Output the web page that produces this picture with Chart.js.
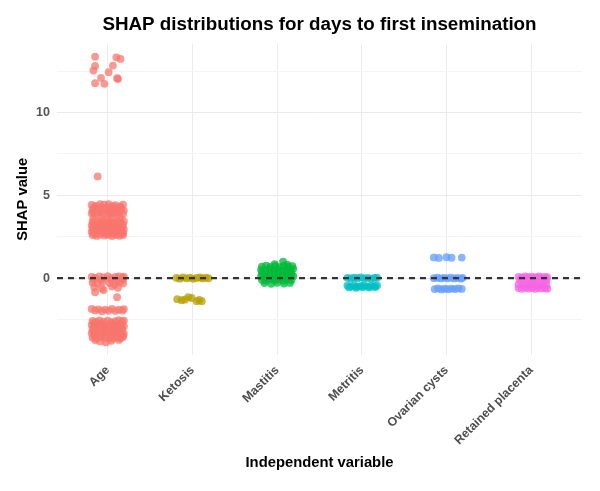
<!DOCTYPE html>
<html>
<head>
<meta charset="utf-8">
<script src="https://cdn.jsdelivr.net/npm/chart.js@4"></script>
<style>
  html, body { margin: 0; padding: 0; background: #fff; }
  #wrap { width: 600px; height: 491px; }
</style>
</head>
<body>
<div id="wrap"><canvas id="myChart" width="600" height="491"></canvas></div>
<script>
// categories on the x axis
const categories = ['Age', 'Ketosis', 'Mastitis', 'Metritis', 'Ovarian cysts', 'Retained placenta'];

// each point: [jitter offset from the category, SHAP value]
const agePoints = [
  [-0.15, 13.37], [-0.15, 12.81], [-0.17, 12.53], [-0.08, 12.09], [-0.15, 11.77], [-0.04, 11.73],
  [0.01, 12.43], [0.06, 12.83], [0.10, 13.33], [0.15, 13.23], [0.11, 12.07], [0.12, 12.02],
  [-0.12, 6.14],
  [-0.19, 4.42], [-0.14, 4.36], [-0.09, 4.47], [-0.04, 4.43], [0.01, 4.46], [0.05, 4.35], [0.09, 4.4], [0.14, 4.33], [0.18, 4.44],
  [-0.16, 4.28], [-0.11, 4.3], [-0.01, 4.26], [0.07, 4.29], [0.16, 4.25],
  [-0.18, 4.15], [-0.13, 4.1], [-0.07, 4.2], [-0.02, 4.12], [0.03, 4.18], [0.07, 4.06], [0.11, 4.2], [0.16, 4.12], [0.19, 4.08],
  [-0.17, 4.0], [-0.08, 4.02], [0.02, 3.99], [0.12, 4.01],
  [-0.19, 3.92], [-0.15, 3.86], [-0.10, 3.95], [-0.05, 3.87], [0.0, 3.92], [0.04, 3.84], [0.09, 3.94], [0.13, 3.88], [0.18, 3.85],
  [-0.17, 3.63], [-0.08, 3.68], [-0.01, 3.58], [0.06, 3.66], [0.15, 3.61],
  [-0.18, 3.42], [-0.13, 3.38], [-0.09, 3.45], [-0.05, 3.36], [-0.01, 3.44], [0.03, 3.4], [0.07, 3.35], [0.11, 3.46], [0.15, 3.39], [0.19, 3.43],
  [-0.19, 3.18], [-0.15, 3.24], [-0.11, 3.15], [-0.06, 3.22], [-0.02, 3.17], [0.02, 3.25], [0.06, 3.14], [0.1, 3.21], [0.14, 3.16], [0.18, 3.23],
  [-0.17, 3.3], [-0.08, 3.29], [0.04, 3.31], [0.13, 3.28],
  [-0.18, 2.98], [-0.14, 3.04], [-0.1, 2.95], [-0.05, 3.02], [-0.01, 2.97], [0.04, 3.05], [0.08, 2.96], [0.12, 3.03], [0.16, 2.99], [0.19, 2.94],
  [-0.16, 3.09], [-0.03, 3.1], [0.09, 3.08], [0.17, 3.11],
  [-0.19, 2.8], [-0.15, 2.76], [-0.11, 2.84], [-0.07, 2.78], [-0.02, 2.82], [0.02, 2.75], [0.07, 2.83], [0.11, 2.77], [0.15, 2.81], [0.18, 2.74],
  [-0.17, 2.89], [-0.06, 2.9], [0.05, 2.88], [0.14, 2.9],
  [-0.18, 2.6], [-0.13, 2.55], [-0.09, 2.63], [-0.04, 2.57], [0.01, 2.62], [0.05, 2.54], [0.1, 2.6], [0.14, 2.56], [0.18, 2.61],
  [-0.16, 2.68], [-0.02, 2.69], [0.08, 2.67], [0.17, 2.7],
  [-0.19, 0.08], [-0.15, 0.02], [-0.1, 0.1], [-0.05, 0.04], [0.0, 0.12], [0.04, 0.0], [0.09, 0.07], [0.13, 0.1], [0.17, 0.03], [0.19, 0.09],
  [-0.17, -0.1], [-0.08, -0.12], [0.03, -0.08], [0.11, -0.14], [0.18, -0.09],
  [-0.18, -0.26], [-0.12, -0.34], [-0.06, -0.22], [0.02, -0.3], [0.08, -0.38], [0.14, -0.24], [0.18, -0.32],
  [-0.16, -0.55], [-0.07, -0.62], [0.05, -0.5], [0.12, -0.58], [-0.15, -0.85], [-0.05, -0.72], [0.11, -1.15],
  [-0.19, -1.86], [-0.15, -1.95], [-0.11, -1.88], [-0.07, -2.0], [-0.03, -1.9], [0.01, -1.97], [0.05, -1.85], [0.09, -1.99], [0.13, -1.9], [0.17, -1.96], [0.19, -1.87],
  [-0.18, -2.58], [-0.14, -2.64], [-0.1, -2.55], [-0.05, -2.62], [0.0, -2.57], [0.04, -2.66], [0.09, -2.6], [0.13, -2.54], [0.17, -2.63], [0.19, -2.57],
  [-0.17, -2.72], [-0.07, -2.74], [0.05, -2.71], [0.15, -2.75],
  [-0.19, -2.83], [-0.15, -2.9], [-0.11, -2.8], [-0.06, -2.88], [-0.02, -2.84], [0.03, -2.92], [0.07, -2.82], [0.11, -2.89], [0.15, -2.85], [0.19, -2.9],
  [-0.16, -2.98], [-0.04, -2.99], [0.08, -2.97], [0.17, -3.0],
  [-0.18, -3.08], [-0.13, -3.14], [-0.09, -3.05], [-0.04, -3.12], [0.0, -3.07], [0.05, -3.15], [0.09, -3.1], [0.13, -3.04], [0.17, -3.13],
  [-0.17, -3.22], [-0.06, -3.24], [0.06, -3.21], [0.15, -3.25],
  [-0.19, -3.32], [-0.15, -3.38], [-0.1, -3.3], [-0.06, -3.4], [-0.01, -3.34], [0.03, -3.37], [0.08, -3.31], [0.12, -3.39], [0.16, -3.33], [0.19, -3.36],
  [-0.16, -3.48], [-0.03, -3.47], [0.09, -3.49], [0.18, -3.46],
  [-0.18, -3.58], [-0.13, -3.64], [-0.08, -3.56], [-0.03, -3.62], [0.02, -3.6], [0.06, -3.66], [0.11, -3.57], [0.15, -3.63], [0.18, -3.55],
  [-0.09, -3.82], [0.04, -3.78], [-0.02, -3.88], [-0.15, -3.74], [0.13, -3.73]
];

const ketosisPoints = [
  [-0.19, 0.02], [-0.15, -0.03], [-0.11, 0.04], [-0.07, -0.01], [-0.03, 0.03], [0.01, -0.04], [0.05, 0.01], [0.09, 0.04], [0.12, -0.02], [0.16, 0.03], [0.19, -0.01],
  [-0.18, -1.27], [-0.13, -1.33], [-0.05, -1.15], [-0.01, -1.2], [0.05, -1.39], [0.11, -1.39], [0.08, -1.32], [-0.09, -1.3]
];

const mastitisPoints = [
  [0.07, 1.0], [-0.03, 0.85], [0.12, 0.82],
  [-0.18, 0.7], [-0.13, 0.76], [-0.08, 0.68], [-0.02, 0.74], [0.03, 0.66], [0.08, 0.75], [0.13, 0.69], [0.18, 0.73],
  [-0.19, 0.5], [-0.14, 0.45], [-0.09, 0.55], [-0.04, 0.47], [0.01, 0.53], [0.06, 0.44], [0.11, 0.52], [0.16, 0.48], [0.19, 0.56],
  [-0.18, 0.3], [-0.13, 0.25], [-0.08, 0.33], [-0.03, 0.27], [0.02, 0.32], [0.07, 0.24], [0.12, 0.31], [0.17, 0.26],
  [-0.19, 0.1], [-0.14, 0.05], [-0.09, 0.13], [-0.04, 0.06], [0.01, 0.12], [0.06, 0.04], [0.11, 0.11], [0.16, 0.07], [0.19, 0.12],
  [-0.18, -0.1], [-0.13, -0.15], [-0.08, -0.07], [-0.03, -0.13], [0.02, -0.09], [0.07, -0.16], [0.12, -0.08], [0.17, -0.12],
  [-0.15, -0.3], [-0.07, -0.34], [0.0, -0.28], [0.08, -0.33], [0.15, -0.29]
];

const metritisPoints = [
  [-0.17, 0.02], [-0.13, -0.02], [-0.09, 0.03], [-0.05, 0.0], [-0.01, 0.04], [0.03, -0.01], [0.07, 0.02], [0.11, -0.03], [0.15, 0.01], [0.18, 0.03],
  [-0.17, -0.45], [-0.13, -0.5], [-0.09, -0.43], [-0.05, -0.52], [-0.01, -0.47], [0.03, -0.44], [0.07, -0.51], [0.11, -0.46], [0.15, -0.49], [0.18, -0.44],
  [-0.15, -0.56], [-0.07, -0.58], [0.01, -0.55], [0.09, -0.57], [0.16, -0.54]
];

const ovarianPoints = [
  [-0.15, 1.25], [-0.09, 1.22], [0.0, 1.26], [0.06, 1.23], [0.18, 1.24],
  [-0.15, 0.0], [-0.11, 0.03], [-0.07, -0.02], [-0.03, 0.02], [0.01, -0.01], [0.05, 0.03], [0.09, -0.02], [0.13, 0.01], [0.17, -0.03], [0.19, 0.02],
  [-0.14, -0.66], [-0.1, -0.62], [-0.06, -0.68], [-0.02, -0.64], [0.02, -0.67], [0.06, -0.63], [0.1, -0.66], [0.14, -0.62], [0.18, -0.65]
];

const placentaPoints = [
  [-0.15, 0.08], [-0.11, 0.05], [-0.07, 0.1], [-0.03, 0.06], [0.01, 0.09], [0.05, 0.04], [0.09, 0.1], [0.13, 0.06], [0.17, 0.08], [0.19, 0.05],
  [-0.13, -0.12], [-0.05, -0.08], [0.03, -0.14], [0.11, -0.1], [0.18, -0.13],
  [-0.15, -0.38], [-0.1, -0.42], [-0.06, -0.36], [-0.02, -0.41], [0.02, -0.37], [0.06, -0.43], [0.1, -0.38], [0.14, -0.42], [0.18, -0.39],
  [-0.15, -0.6], [-0.11, -0.64], [-0.07, -0.58], [-0.03, -0.63], [0.01, -0.6], [0.05, -0.65], [0.09, -0.59], [0.13, -0.62], [0.17, -0.6], [0.19, -0.64]
];

const seriesPoints = [agePoints, ketosisPoints, mastitisPoints, metritisPoints, ovarianPoints, placentaPoints];

// y ticks (labels only on multiples of 5) and the reference line
const yTicks = [-2.5, 0, 2.5, 5, 7.5, 10, 12.5];
const refLine = 0;

const yMin = -4.64, yMax = 14.16;
const xMin = 0.4, xMax = 6.6;

// ggplot hue palette, 6 levels
const colors = ['248,118,109', '183,159,0', '0,186,56', '0,191,196', '97,156,255', '245,100,227'];
const FONT = '"Liberation Sans", Arial, sans-serif';

const datasets = [{
  type: 'line',
  data: [{ x: xMin, y: refLine }, { x: xMax, y: refLine }],
  borderColor: '#333333',
  borderWidth: 2.2,
  borderDash: [6, 5],
  pointRadius: 0,
  order: 0
}];

seriesPoints.forEach((pts, i) => {
  datasets.push({
    label: categories[i],
    data: pts.map(p => ({ x: i + 1 + p[0], y: p[1] })),
    backgroundColor: 'rgba(' + colors[i] + ',0.75)',
    borderWidth: 0,
    pointRadius: 3.9,
    order: 1
  });
});

new Chart(document.getElementById('myChart'), {
  type: 'scatter',
  data: { datasets: datasets },
  options: {
    responsive: false,
    animation: false,
    events: [],
    layout: { padding: { left: 0, right: 18, top: 0, bottom: 0 } },
    plugins: {
      legend: { display: false },
      tooltip: { enabled: false },
      title: {
        display: true,
        fullSize: false,
        text: 'SHAP distributions for days to first insemination',
        color: '#000',
        font: { family: FONT, size: 18.8, weight: 'bold' },
        padding: { top: 14, bottom: 7 }
      }
    },
    scales: {
      x: {
        type: 'linear',
        min: xMin,
        max: xMax,
        afterBuildTicks: s => { s.ticks = categories.map((c, i) => ({ value: i + 1 })); },
        afterFit: s => { s.height = 136; },
        grid: { color: '#EBEBEB', lineWidth: 1, drawTicks: false },
        border: { display: false },
        ticks: {
          autoSkip: false,
          minRotation: 45,
          maxRotation: 45,
          padding: 8,
          color: '#4D4D4D',
          font: { family: FONT, size: 12.3, weight: 'bold' },
          callback: v => categories[Math.round(v) - 1]
        },
        title: {
          display: true,
          text: 'Independent variable',
          color: '#000',
          font: { family: FONT, size: 14.8, weight: 'bold' },
          padding: { top: 0, bottom: 19 }
        }
      },
      y: {
        min: yMin,
        max: yMax,
        afterBuildTicks: s => { s.ticks = yTicks.map(v => ({ value: v })); },
        afterFit: s => { s.width = 57; },
        grid: {
          color: c => (c.tick && c.tick.value % 5 === 0) ? '#EBEBEB' : '#F4F4F4',
          lineWidth: 1,
          drawTicks: false
        },
        border: { display: false },
        ticks: {
          padding: 7,
          color: '#555555',
          font: { family: FONT, size: 12.5, weight: 'bold' },
          callback: v => (v % 5 === 0 ? String(v) : '')
        },
        title: {
          display: true,
          text: 'SHAP value',
          color: '#000',
          font: { family: FONT, size: 14.8, weight: 'bold' },
          padding: { top: 14, bottom: 0 }
        }
      }
    }
  }
});
</script>
</body>
</html>
